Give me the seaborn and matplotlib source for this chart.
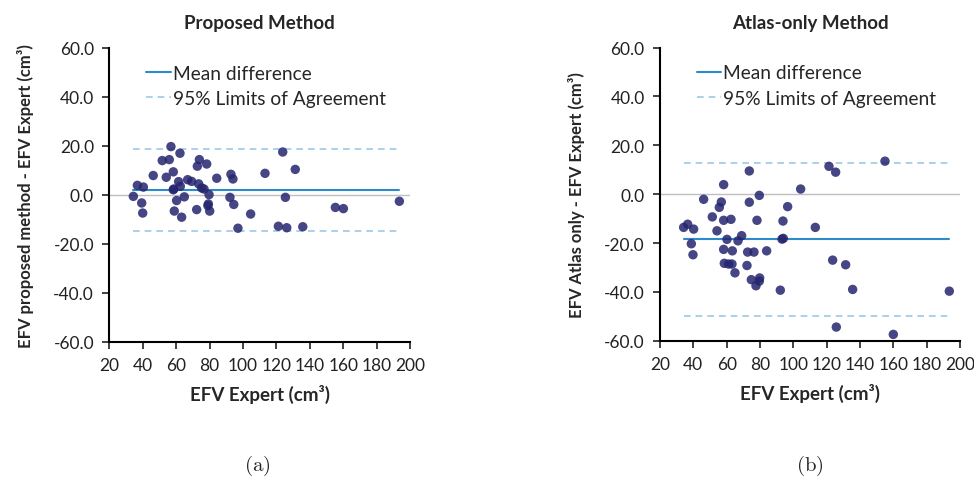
import numpy as np
import pandas as pd
import matplotlib
matplotlib.use('Agg')
import matplotlib.pyplot as plt
import seaborn as sns

# Bland-Altman data
x_prop = [34.4, 36.8, 40.4, 39.4, 40.0, 46.3, 51.7, 55.9, 56.9, 54.1, 58.3, 62.3, 58.3, 58.6,
          61.5, 62.5, 60.3, 64.9, 58.9, 63.3, 66.9, 69.3, 72.3, 72.7, 73.9, 78.3, 73.5, 75.3,
          76.7, 79.7, 79.3, 79.0, 80.1, 84.3, 92.2, 92.8, 94.0, 94.5, 97.0, 104.6, 113.2,
          123.8, 121.2, 125.4, 126.2, 131.3, 135.8, 155.3, 160.1, 193.6]
d_prop = [-0.7, 3.8, 3.1, -3.4, -7.5, 7.8, 13.9, 14.3, 19.6, 7.1, 9.3, 16.9, 2.0, 2.3,
          5.3, 3.4, -2.4, -0.9, -6.7, -9.2, 6.1, 5.4, -6.1, 11.6, 14.3, 12.5, 4.4, 2.7,
          2.3, 0.0, -3.8, -4.5, -6.7, 6.7, -1.1, 8.3, 6.4, -4.0, -13.7, -7.9, 8.7,
          17.4, -12.9, -1.1, -13.5, 10.3, -13.1, -5.2, -5.7, -2.7]

x_atlas = [34.2, 36.6, 40.2, 38.8, 39.8, 46.2, 51.4, 54.2, 55.6, 56.8, 58.2, 58.2, 62.6, 60.2,
           58.2, 58.6, 61.2, 63.2, 63.4, 65.0, 66.8, 69.0, 72.2, 72.6, 73.6, 73.6, 74.8, 76.4,
           77.6, 78.2, 79.6, 79.6, 79.8, 84.0, 92.2, 93.8, 94.0, 93.2, 96.6, 104.4, 113.2,
           121.4, 123.6, 125.4, 125.8, 131.4, 135.6, 155.0, 160.0, 193.6]
d_atlas = [-13.6, -12.3, -14.3, -20.3, -24.8, -2.1, -9.3, -15.0, -5.4, -3.2, 3.9, -10.7, -10.3, -18.5,
           -22.6, -28.3, -28.6, -28.6, -23.2, -32.2, -19.1, -17.0, -29.2, -23.7, 9.5, -3.3, -35.0, -23.7,
           -37.5, -10.7, -0.5, -35.6, -34.3, -23.2, -39.3, -11.0, -18.1, -18.4, -5.1, 2.1, -13.6,
           11.4, -27.0, 9.0, -54.4, -28.9, -39.0, 13.5, -57.4, -39.7]

mean_prop, upper_prop, lower_prop = 1.7, 18.5, -15.0
mean_atlas, upper_atlas, lower_atlas = -18.5, 12.7, -49.8

sns.set_style('white')
plt.rcParams['font.family'] = ['Lato', 'DejaVu Sans']
plt.rcParams['axes.unicode_minus'] = False
plt.rcParams['mathtext.fontset'] = 'cm'

fig = plt.figure(figsize=(9.74, 4.81), dpi=100)
ax1 = fig.add_axes([0.1122, 0.2875, 0.3088, 0.6115])
ax2 = fig.add_axes([0.6776, 0.2895, 0.3080, 0.6095])

panels = [
    (ax1, x_prop, d_prop, mean_prop, upper_prop, lower_prop, 'Proposed Method',
     'EFV proposed method - EFV Expert (cm³)'),
    (ax2, x_atlas, d_atlas, mean_atlas, upper_atlas, lower_atlas, 'Atlas-only Method',
     'EFV Atlas only - EFV Expert (cm³)'),
]

for ax, xs, ds, m, up, lo, title, ylab in panels:
    df = pd.DataFrame({'expert': xs, 'diff': ds})
    ax.axhline(0, color='#bfbfbf', lw=1.0, zorder=1)
    x0, x1 = df['expert'].min(), df['expert'].max()
    ax.plot([x0, x1], [m, m], color='#2e8bc9', lw=1.5, label='Mean difference', zorder=2)
    ax.plot([x0, x1], [up, up], color='#9cc8e6', lw=1.2, ls=(0, (4, 3)),
            label='95% Limits of Agreement', zorder=2)
    ax.plot([x0, x1], [lo, lo], color='#9cc8e6', lw=1.2, ls=(0, (4, 3)), zorder=2)
    sns.scatterplot(data=df, x='expert', y='diff', ax=ax, color='#25256f', alpha=0.85,
                    s=46, edgecolor='none', zorder=3)

    ax.set_xlim(20, 200)
    ax.set_ylim(-60, 60)
    ax.set_xticks(np.arange(20, 201, 20))
    ax.set_yticks(np.arange(-60, 61, 20))
    ax.set_yticklabels(['%.1f' % v for v in np.arange(-60, 61, 20)])
    ax.tick_params(axis='both', direction='out', length=5, width=1.2, labelsize=12.5,
                   colors='#222222', left=True, bottom=True, pad=6)
    for side in ['top', 'right']:
        ax.spines[side].set_visible(False)
    for side in ['left', 'bottom']:
        ax.spines[side].set_color('black')
        ax.spines[side].set_linewidth(1.5)

    ax.set_title(title, fontweight='bold', fontsize=13.5, pad=14)
    ax.set_xlabel('EFV Expert (cm³)', fontweight='bold', fontsize=13.5, labelpad=8)
    ax.set_ylabel(ylab, fontweight='bold', fontsize=12, labelpad=14)
    ax.legend(loc='upper left', bbox_to_anchor=(0.09, 0.975), frameon=False, fontsize=13.8,
              handlelength=1.3, handletextpad=0.1, labelspacing=0.45, borderpad=0)

fig.text(257 / 974, 1 - 466 / 481, r'$\mathrm{(a)}$', ha='center', va='center', fontsize=15)
fig.text(810 / 974, 1 - 466 / 481, r'$\mathrm{(b)}$', ha='center', va='center', fontsize=15)

fig.savefig('out.png', dpi=100, facecolor='white')
